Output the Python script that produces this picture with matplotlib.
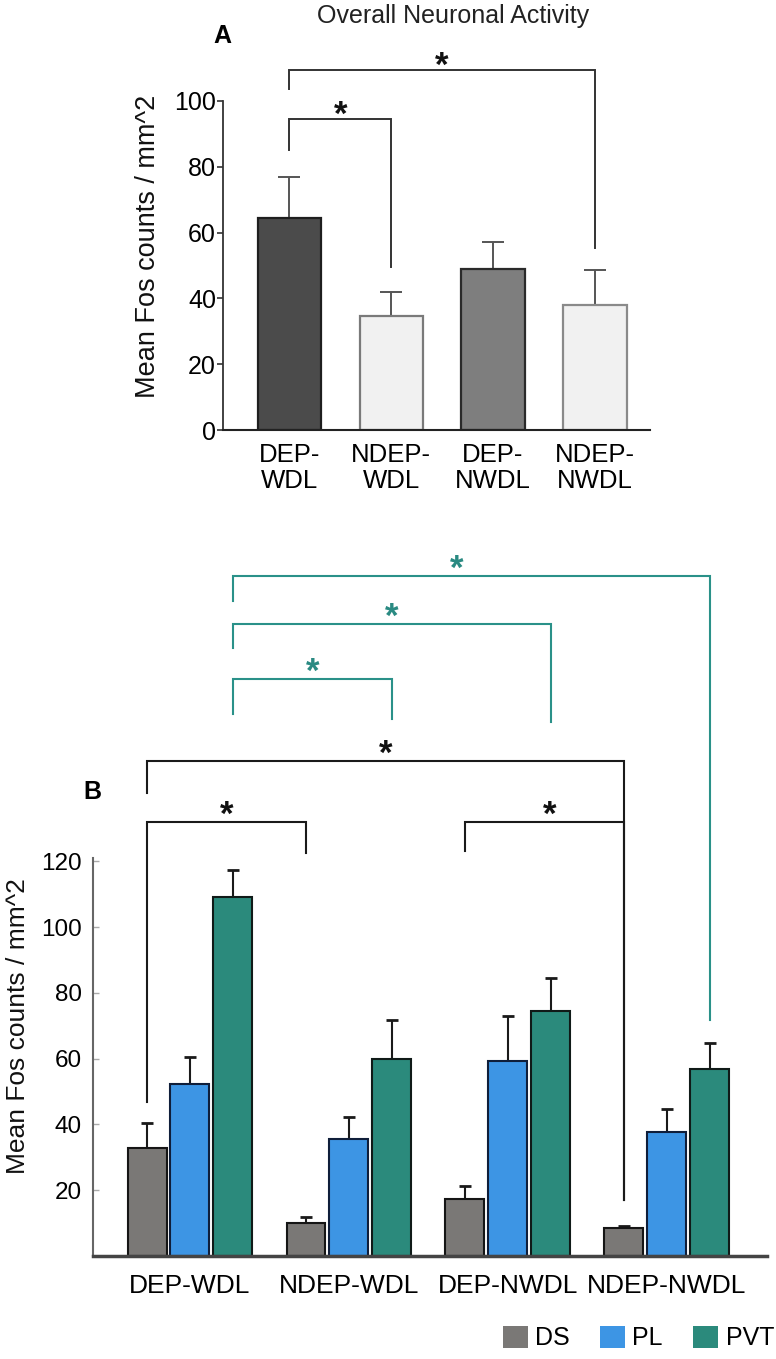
import numpy as np
import matplotlib
matplotlib.use("Agg")
import matplotlib.pyplot as plt
from matplotlib.patches import Patch

plt.rcParams['font.family'] = ['Liberation Sans', 'DejaVu Sans']

# ---- data ----
groups = ['DEP-WDL', 'NDEP-WDL', 'DEP-NWDL', 'NDEP-NWDL']
groups_a = ['DEP-\nWDL', 'NDEP-\nWDL', 'DEP-\nNWDL', 'NDEP-\nNWDL']

overall_mean = [64.5, 34.5, 49.0, 38.0]
overall_sem = [12.5, 7.5, 8.0, 10.5]

regions = ['DS', 'PL', 'PVT']
ds_mean = [32.8, 10.1, 17.3, 8.5]
ds_sem = [7.7, 1.7, 4.1, 0.7]
pl_mean = [52.3, 35.5, 59.2, 37.7]
pl_sem = [8.2, 6.7, 13.8, 6.9]
pvt_mean = [109.0, 59.8, 74.6, 56.8]
pvt_sem = [8.3, 11.9, 9.9, 8.0]

# significance brackets: (group1, group2, top, left end, right end)
sig_a = [(0, 1, 94.5, 85, 49.5), (0, 3, 109.4, 103.6, 55.3)]
# panel B: (group1, region, group2, region, top, left end, right end, star shift)
sig_b = [
    (0, 2, 3, 2, 206.7, 199.0, 71.7, -0.09),
    (0, 2, 2, 2, 192.0, 184.8, 162.3, 0.0),
    (0, 2, 1, 2, 175.4, 164.7, 163.2, 0.0),
    (0, 0, 3, 0, 150.5, 140.7, 17.0, 0.0),
    (0, 0, 1, 0, 131.9, 46.8, 122.5, 0.0),
    (2, 0, 3, 0, 131.9, 123.1, 17.0, 0.03),
]

W, H = 776, 1359
fig = plt.figure(figsize=(W / 100, H / 100), dpi=100)
fig.patch.set_facecolor('white')

teal_line = '#2a9189'
star_fs = 25


def star(ax, x, y, color):
    ax.annotate('*', xy=(x, y), xytext=(0, -0.6 * star_fs), textcoords='offset points',
                ha='center', va='baseline', fontsize=star_fs, fontweight='bold',
                color=color, annotation_clip=False)


def bracket(ax, x1, x2, top, y1, y2, color, lw):
    ax.plot([x1, x1, x2, x2], [y1, top, top, y2], color=color, lw=lw,
            clip_on=False, solid_joinstyle='miter')


# ---- panel A ----
axA = fig.add_axes([223 / W, 1 - 430 / H, 427 / W, 329 / H])
xa = np.arange(len(groups))
fill_a = ['#4b4b4b', '#f1f1f1', '#7e7e7e', '#f1f1f1']
edge_a = ['#1e1e1e', '#7a7a7a', '#2a2a2a', '#8a8a8a']
axA.bar(xa, overall_mean, width=0.62, color=fill_a, edgecolor=edge_a, linewidth=1.6, zorder=2)
axA.errorbar(xa, overall_mean, yerr=[np.zeros(4), overall_sem], fmt='none',
             ecolor='#555555', elinewidth=1.4, capsize=8, capthick=1.4, zorder=1)
axA.set_xlim(-0.65, 3.54)
axA.set_ylim(0, 100)
axA.set_yticks([0, 20, 40, 60, 80, 100])
axA.set_xticks(xa)
axA.set_xticklabels(groups_a, fontsize=18.5, linespacing=1.12)
axA.tick_params(axis='x', length=0, pad=9)
axA.tick_params(axis='y', labelsize=18, length=4, width=1.2, pad=1, color='#333333')
for s in ['top', 'right']:
    axA.spines[s].set_visible(False)
axA.spines['left'].set_linewidth(1.3)
axA.spines['bottom'].set_linewidth(1.5)
axA.spines['left'].set_color('#333333')
axA.spines['bottom'].set_color('#222222')

for g1, g2, top, y1, y2 in sig_a:
    bracket(axA, xa[g1], xa[g2], top, y1, y2, '#333333', 1.4)
    star(axA, (xa[g1] + xa[g2]) / 2, top + 4.5, '#111111')

fig.text(453 / W, 1 - 16 / H, 'Overall Neuronal Activity', ha='center', va='center',
         fontsize=18, color='#222222')
fig.text(222 / W, 1 - 36 / H, 'A', ha='center', va='center', fontsize=18, fontweight='bold')
fig.text(148 / W, 1 - 246 / H, 'Mean Fos counts / mm^2', rotation=90, ha='center',
         va='center', fontsize=19.5, color='#111111')

# ---- panel B ----
axB = fig.add_axes([93 / W, 1 - 1256 / H, 674 / W, 398 / H])
xb = np.arange(len(groups))
off = 0.27
bw = 0.245
colors_b = ['#7a7876', '#3d95e4', '#2b8a7c']
edges_b = ['#151515', '#0f1e3a', '#101a18']
means_b = [ds_mean, pl_mean, pvt_mean]
sems_b = [ds_sem, pl_sem, pvt_sem]
for i in range(3):
    pos = xb + (i - 1) * off
    axB.bar(pos, means_b[i], width=bw, color=colors_b[i], edgecolor=edges_b[i],
            linewidth=1.5, zorder=2)
    axB.errorbar(pos, means_b[i], yerr=[np.zeros(4), sems_b[i]], fmt='none',
                 ecolor='#1a1a1a', elinewidth=1.5, capsize=4, capthick=2, zorder=1)
axB.set_xlim(-0.61, 3.63)
axB.set_ylim(0, 121)
axB.set_yticks([20, 40, 60, 80, 100, 120])
axB.set_xticks(xb)
axB.set_xticklabels(groups, fontsize=19)
axB.tick_params(axis='x', length=0, pad=13)
axB.tick_params(axis='y', direction='in', labelsize=17.5, length=4, width=1,
                color='#aaaaaa', pad=8)
for s in ['top', 'right']:
    axB.spines[s].set_visible(False)
axB.spines['left'].set_color('#666666')
axB.spines['left'].set_linewidth(1.5)
axB.spines['bottom'].set_color('#444444')
axB.spines['bottom'].set_linewidth(2.5)

for g1, r1, g2, r2, top, y1, y2, shift in sig_b:
    x1 = xb[g1] + (r1 - 1) * off
    x2 = xb[g2] + (r2 - 1) * off
    col = teal_line if r1 == 2 else '#1a1a1a'
    scol = '#2a8a82' if r1 == 2 else '#111111'
    bracket(axB, x1, x2, top, y1, y2, col, 1.5)
    star(axB, (x1 + x2) / 2 + shift, top + 5.5, scol)

fig.text(92 / W, 1 - 792 / H, 'B', ha='center', va='center', fontsize=18, fontweight='bold')
fig.text(18 / W, 1 - 1026 / H, 'Mean Fos counts / mm^2', rotation=90, ha='center',
         va='center', fontsize=19, color='#111111')

handles = [Patch(facecolor=colors_b[i], edgecolor='none') for i in range(3)]
fig.legend(handles, regions, ncol=3, frameon=False, loc='center right',
           bbox_to_anchor=(774 / W, 1 - 1338 / H), fontsize=18,
           handlelength=1.0, handleheight=1.0, handletextpad=0.3,
           columnspacing=1.2, borderpad=0, borderaxespad=0)

fig.savefig('out.png', dpi=100, facecolor='white')
